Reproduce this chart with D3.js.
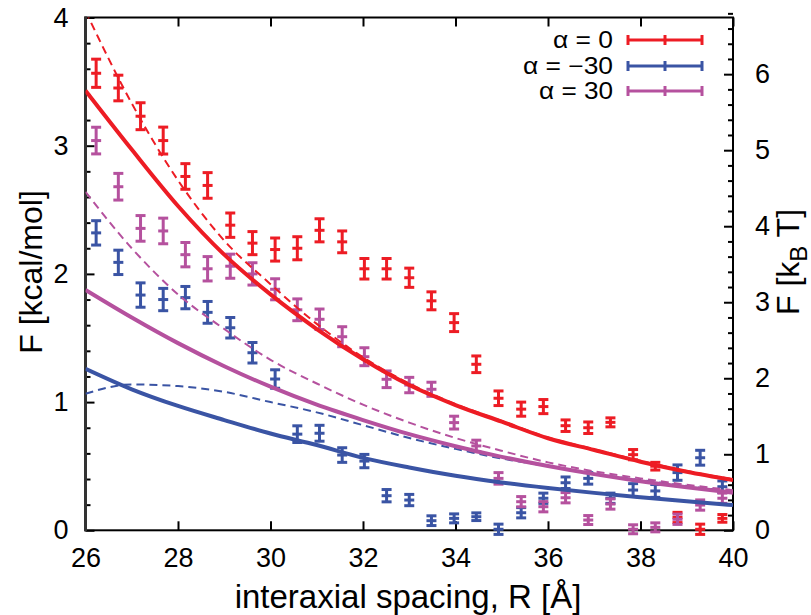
<!DOCTYPE html>
<html>
<head>
<meta charset="utf-8">
<script src="https://cdn.jsdelivr.net/npm/d3@7"></script>
<style>
  html, body { margin: 0; padding: 0; background: #fff; }
  svg { display: block; font-family: "Liberation Sans", Arial, Helvetica, sans-serif; }
</style>
</head>
<body>
<svg id="chart" width="811" height="615"></svg>
<script>
// ---------------- data ----------------
const R = [26.23, 26.71, 27.19, 27.68, 28.16, 28.64, 29.13, 29.61, 30.10, 30.58, 31.06, 31.55, 32.03, 32.51, 33.00,
           33.48, 33.97, 34.45, 34.93, 35.42, 35.90, 36.38, 36.87, 37.35, 37.84, 38.32, 38.80, 39.29, 39.77];

const alpha0 = [3.565, 3.45, 3.23, 3.04, 2.76, 2.69, 2.38, 2.24, 2.19, 2.20, 2.34, 2.25, 2.04, 2.04, 1.97,
                1.79, 1.62, 1.295, 1.03, 0.945, 0.965, 0.816, 0.80, 0.842, 0.59, 0.50, 0.10, 0.008, 0.093];
const alpha0Err = [0.11, 0.10, 0.105, 0.105, 0.10, 0.10, 0.095, 0.09, 0.09, 0.09, 0.09, 0.085, 0.08, 0.08, 0.075,
                   0.07, 0.07, 0.065, 0.057, 0.055, 0.055, 0.045, 0.045, 0.035, 0.04, 0.03, 0.04, 0.04, 0.03];

const alphaM30 = [2.32, 2.09, 1.835, 1.80, 1.815, 1.70, 1.58, 1.385, 1.18, 0.75, 0.757, 0.587, 0.54, 0.27, 0.236,
                  0.075, 0.093, 0.106, 0.008, 0.137, 0.25, 0.371, 0.405, 0.25, 0.314, 0.307, 0.45, 0.566, 0.34];
const alphaM30Err = [0.095, 0.095, 0.095, 0.087, 0.087, 0.085, 0.08, 0.08, 0.072, 0.065, 0.062, 0.057, 0.052, 0.048, 0.044,
                     0.038, 0.035, 0.03, 0.04, 0.04, 0.04, 0.045, 0.045, 0.04, 0.05, 0.05, 0.06, 0.058, 0.045];

const alpha30 = [3.04, 2.68, 2.355, 2.335, 2.15, 2.04, 2.06, 2.0, 1.88, 1.72, 1.646, 1.51, 1.354, 1.178, 1.133,
                 1.10, 0.84, 0.658, 0.405, 0.223, 0.184, 0.254, 0.08, 0.205, 0.008, 0.023, 0.086, 0.197, 0.25];
const alpha30Err = [0.104, 0.104, 0.10, 0.10, 0.095, 0.095, 0.094, 0.087, 0.082, 0.085, 0.08, 0.078, 0.07, 0.065, 0.06,
                    0.055, 0.05, 0.045, 0.045, 0.04, 0.04, 0.04, 0.035, 0.04, 0.035, 0.035, 0.04, 0.04, 0.04];

// fitted curves, read at integer R
const fitR = [26, 27, 28, 29, 30, 31, 32, 33, 34, 35, 36, 37, 38, 39, 40];
const fit0Solid   = [3.43, 2.97, 2.53, 2.15, 1.84, 1.57, 1.334, 1.133, 0.977, 0.847, 0.718, 0.626, 0.535, 0.457, 0.392];
const fit0Dashed  = [4.05, 3.33, 2.73, 2.26, 1.92, 1.61, 1.35, 1.145, 0.985, 0.853, 0.724, 0.632, 0.542, 0.463, 0.398];
const fitM30Solid = [1.26, 1.10, 0.97, 0.86, 0.755, 0.665, 0.565, 0.49, 0.425, 0.373, 0.33, 0.292, 0.258, 0.226, 0.197];
const fitM30Dashed= [1.065, 1.138, 1.125, 1.08, 1.00, 0.92, 0.82, 0.72, 0.635, 0.56, 0.50, 0.44, 0.392, 0.345, 0.30];
const fit30Solid  = [1.875, 1.66, 1.46, 1.28, 1.12, 0.98, 0.86, 0.75, 0.656, 0.573, 0.501, 0.438, 0.383, 0.335, 0.293];
const fit30Dashed = [2.64, 2.20, 1.84, 1.57, 1.33, 1.145, 0.98, 0.84, 0.72, 0.62, 0.53, 0.46, 0.405, 0.355, 0.313];

const legendLabels = ["α = 0", "α = −30", "α = 30"];
const xTicks = [26, 28, 30, 32, 34, 36, 38, 40];
const yTicks = [0, 1, 2, 3, 4];
const y2Ticks = [0, 1, 2, 3, 4, 5, 6];
const kT = 0.593; // kcal/mol per kBT

// ---------------- layout ----------------
const COLORS = ["#ed1c24", "#3a54a4", "#b5519e"];
const svg = d3.select("#chart");
const pL = 85.5, pR = 733, pT = 17.5, pB = 530.3;
const x = d3.scaleLinear().domain([26, 40]).range([pL, pR]);
const y = d3.scaleLinear().domain([0, 4]).range([pB, pT]);
const y2 = d3.scaleLinear().domain([0, 4 / kT]).range([pB, pT]);

svg.append("defs").append("clipPath").attr("id", "clip")
  .append("rect").attr("x", pL).attr("y", pT).attr("width", pR - pL).attr("height", pB - pT);

const tickFont = "27px";

const minorY = d3.range(0, 4.001, 0.2).filter(v => Math.abs(v - Math.round(v)) > 1e-6);
const minorY2 = d3.range(0, 6.81, 0.2).filter(v => Math.abs(v - Math.round(v)) > 1e-6);

function styleAxis(g) {
  g.select(".domain").remove();
  g.selectAll(".tick line").attr("stroke", "#000").attr("stroke-width", 2);
  g.selectAll(".tick text").attr("fill", "#000").style("font-size", tickFont)
    .style("font-family", "'Liberation Sans', Arial, sans-serif");
}

svg.append("g").attr("transform", `translate(${pL},0)`)
  .call(d3.axisLeft(y).tickValues(yTicks).tickFormat(d3.format("d")).tickSize(-9).tickPadding(17))
  .call(styleAxis);
svg.append("g").attr("transform", `translate(${pL},0)`)
  .call(d3.axisLeft(y).tickValues(minorY).tickFormat("").tickSize(-5))
  .call(styleAxis);

svg.append("g").attr("transform", `translate(${pR},0)`)
  .call(d3.axisRight(y2).tickValues(y2Ticks).tickFormat(d3.format("d")).tickSize(-9).tickPadding(22))
  .call(styleAxis);
svg.append("g").attr("transform", `translate(${pR},0)`)
  .call(d3.axisRight(y2).tickValues(minorY2).tickFormat("").tickSize(-5))
  .call(styleAxis);

svg.append("g").attr("transform", `translate(0,${pB})`)
  .call(d3.axisBottom(x).tickValues(xTicks).tickFormat(d3.format("d")).tickSize(-9).tickPadding(18))
  .call(styleAxis);
svg.append("g").attr("transform", `translate(0,${pT})`)
  .call(d3.axisTop(x).tickValues(xTicks).tickFormat("").tickSize(-9))
  .call(styleAxis);

// frame
svg.append("rect").attr("x", pL).attr("y", pT).attr("width", pR - pL).attr("height", pB - pT)
  .attr("fill", "none").attr("stroke", "#000").attr("stroke-width", 2);
svg.append("line").attr("x1", pL).attr("x2", pL).attr("y1", pT - 1).attr("y2", pB + 1)
  .attr("stroke", "#333").attr("stroke-width", 3);

// ---------------- data points (error bars) ----------------
const series = [
  { vals: alpha0, errs: alpha0Err },
  { vals: alphaM30, errs: alphaM30Err },
  { vals: alpha30, errs: alpha30Err }
];
const capW = 5;
series.forEach((s, si) => {
  const g = svg.append("g").attr("stroke", COLORS[si]).attr("stroke-width", 3).attr("fill", "none");
  R.forEach((r, i) => {
    const cx = x(r), v = s.vals[i], e = s.errs[i];
    const y0 = y(v - e), y1 = y(v + e), yc = y(v);
    g.append("line").attr("x1", cx).attr("x2", cx).attr("y1", y0).attr("y2", y1);
    g.append("line").attr("x1", cx - capW).attr("x2", cx + capW).attr("y1", y0).attr("y2", y0);
    g.append("line").attr("x1", cx - capW).attr("x2", cx + capW).attr("y1", y1).attr("y2", y1);
    g.append("line").attr("x1", cx - capW).attr("x2", cx + capW).attr("y1", yc).attr("y2", yc);
  });
});

// ---------------- fit curves ----------------
const line = d3.line().x(d => x(d[0])).y(d => y(d[1])).curve(d3.curveMonotoneX);
const curves = [
  { v: fit0Dashed, c: 0, dash: true }, { v: fitM30Dashed, c: 1, dash: true }, { v: fit30Dashed, c: 2, dash: true },
  { v: fit0Solid, c: 0, dash: false }, { v: fitM30Solid, c: 1, dash: false }, { v: fit30Solid, c: 2, dash: false }
];
const curveG = svg.append("g").attr("clip-path", "url(#clip)");
curves.forEach(cv => {
  curveG.append("path")
    .attr("d", line(fitR.map((r, i) => [r, cv.v[i]])))
    .attr("fill", "none")
    .attr("stroke", COLORS[cv.c])
    .attr("stroke-width", cv.dash ? 2 : 4)
    .attr("stroke-dasharray", cv.dash ? "8,5" : null);
});

// ---------------- legend ----------------
const legY = [40, 66, 91];
const legW = [60, 90, 74];
legendLabels.forEach((lab, i) => {
  svg.append("text").attr("x", 613).attr("y", legY[i]).attr("dy", "0.35em")
    .attr("text-anchor", "end").style("font-size", "23px").attr("fill", "#000")
    .attr("textLength", legW[i]).attr("lengthAdjust", "spacingAndGlyphs").text(lab);
  const g = svg.append("g").attr("stroke", COLORS[i]).attr("stroke-width", 3);
  g.append("line").attr("x1", 628).attr("x2", 702).attr("y1", legY[i]).attr("y2", legY[i]);
  [628, 665, 702].forEach(px => {
    g.append("line").attr("x1", px).attr("x2", px).attr("y1", legY[i] - 5).attr("y2", legY[i] + 5);
  });
});

// ---------------- axis titles ----------------
svg.append("text").attr("transform", "translate(42,272) rotate(-90)")
  .attr("text-anchor", "middle").style("font-size", "32px").attr("fill", "#000").text("F [kcal/mol]");

svg.append("text").attr("x", 408).attr("y", 608)
  .attr("text-anchor", "middle").style("font-size", "33px").attr("fill", "#000").text("interaxial spacing, R [Å]");

const rt = svg.append("text").attr("transform", "translate(799,262) rotate(-90)")
  .attr("text-anchor", "middle").style("font-size", "32px").attr("fill", "#000");
rt.append("tspan").text("F [k");
rt.append("tspan").attr("dy", 8).style("font-size", "24px").text("B");
rt.append("tspan").attr("dy", -8).text(" T]");
</script>
</body>
</html>
